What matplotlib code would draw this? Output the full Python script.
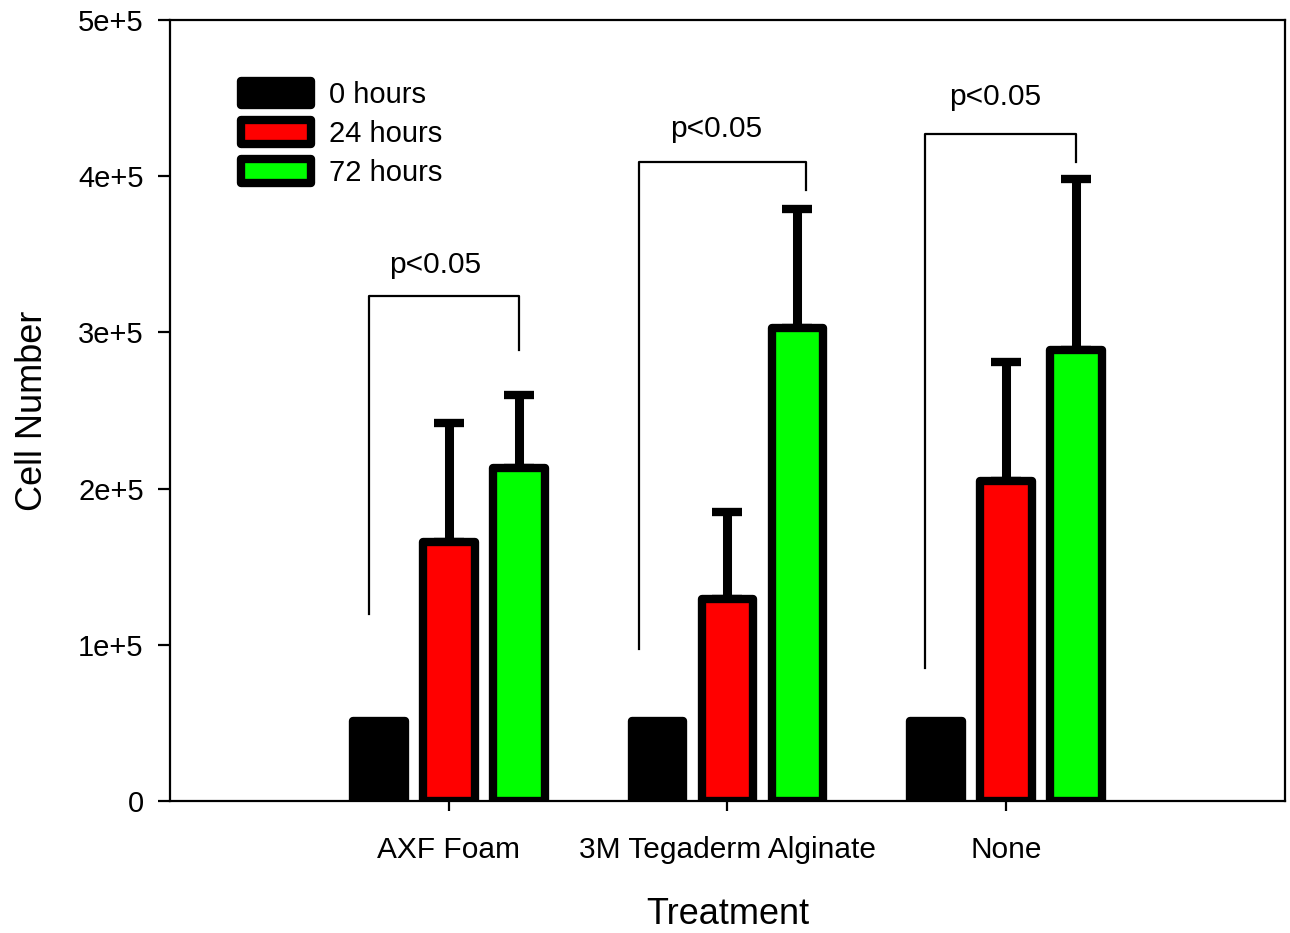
import matplotlib
matplotlib.use("Agg")
import matplotlib.pyplot as plt
import numpy as np

plt.rcParams['font.family'] = ['Liberation Sans', 'DejaVu Sans']

treatments = ["AXF Foam", "3M Tegaderm Alginate", "None"]
series_labels = ["0 hours", "24 hours", "72 hours"]
series_colors = ["#000000", "#ff0000", "#00ff00"]
means_0h = [5.1e4, 5.1e4, 5.1e4]
means_24h = [1.66e5, 1.29e5, 2.05e5]
means_72h = [2.13e5, 3.03e5, 2.89e5]
err_24h = [0.76e5, 0.56e5, 0.76e5]
err_72h = [0.47e5, 0.76e5, 1.09e5]
yticks = [0, 1e5, 2e5, 3e5, 4e5, 5e5]
ytick_labels = ["0", "1e+5", "2e+5", "3e+5", "4e+5", "5e+5"]

# significance brackets: (x_left, y_left_bottom, y_top, x_right, y_right_bottom), label pos
brackets = [
    (0.714, 1.20e5, 3.23e5, 1.252, 2.89e5),
    (1.683, 0.97e5, 4.09e5, 2.283, 3.91e5),
    (2.709, 0.85e5, 4.27e5, 3.250, 4.09e5),
]
p_labels = ["p<0.05", "p<0.05", "p<0.05"]
p_pos = [(0.951, 3.43e5), (1.959, 4.30e5), (2.960, 4.51e5)]

fig = plt.figure(figsize=(12.9, 9.33), dpi=100)
ax = fig.add_axes([0.1318, 0.1415, 0.9961 - 0.1318, 0.9786 - 0.1415])

x = np.arange(1, len(treatments) + 1)
width = 0.185
offset = 0.251
means = [means_0h, means_24h, means_72h]
errs = [None, err_24h, err_72h]
for i, (m, e, c, lab) in enumerate(zip(means, errs, series_colors, series_labels)):
    xi = x + (i - 1) * offset
    if e is not None:
        ax.errorbar(xi, m, yerr=[np.zeros(len(e)), e], fmt='none', ecolor='black',
                    elinewidth=6.5, capsize=11, capthick=6, zorder=2)
    bars = ax.bar(xi, m, width=width, color=c, edgecolor='black', linewidth=6,
                  label=lab, zorder=3)
    for b in bars:
        b.set_joinstyle('round')

for coll in ax.collections:
    coll.set_capstyle('round')
for ln in ax.lines:
    ln.set_solid_capstyle('round')

for (xl, yl, yt, xr, yr), lab, (tx, ty) in zip(brackets, p_labels, p_pos):
    ax.plot([xl, xl, xr, xr], [yl, yt, yt, yr], color='black', lw=1.6, zorder=4)
    ax.text(tx, ty, lab, ha='center', va='center', fontsize=21.5)

ax.set_xlim(0, 4)
ax.set_ylim(0, 5e5)
ax.set_xticks(x)
ax.set_xticklabels(treatments, fontsize=21.5)
ax.set_yticks(yticks)
ax.set_yticklabels(ytick_labels, fontsize=21)
ax.tick_params(axis='y', direction='out', length=9, width=1.6, pad=10)
ax.tick_params(axis='x', direction='out', length=7, width=1.6, pad=18)
for s in ax.spines.values():
    s.set_linewidth(1.6)
ax.set_xlabel("Treatment", fontsize=26, labelpad=24)
ax.set_ylabel("Cell Number", fontsize=26, labelpad=20)

leg = ax.legend(loc='upper left', bbox_to_anchor=(0.064, 0.922), frameon=False,
                fontsize=21, handlelength=2.4, handleheight=0.92,
                handletextpad=0.62, labelspacing=0.36, borderpad=0, borderaxespad=0)
for h in leg.legend_handles:
    h.set_joinstyle('round')

fig.savefig("out.png", dpi=100)
